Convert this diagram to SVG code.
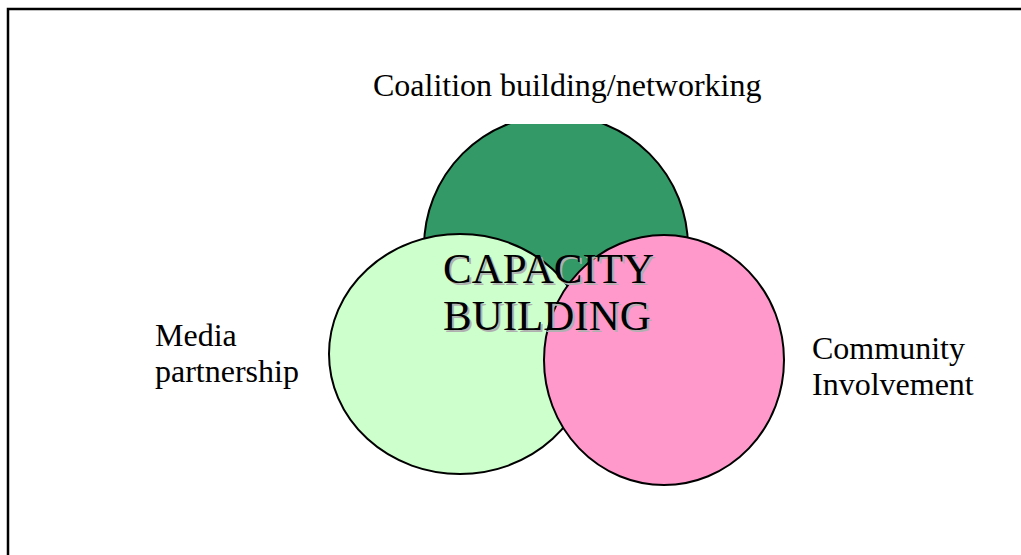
<svg xmlns="http://www.w3.org/2000/svg" width="1021" height="555" viewBox="0 0 1021 555">
<style>
.lbl{font-family:"Liberation Serif","Times New Roman",serif;font-size:32px;fill:#000}
.cap{font-family:"Liberation Serif","Times New Roman",serif;font-size:43px}
.circ{stroke:#000;stroke-width:2}
</style>
<defs>
<clipPath id="topclip"><rect x="0" y="124" width="1021" height="431"/></clipPath>
</defs>
<rect x="8" y="9" width="1030" height="560" fill="#fff" stroke="#000" stroke-width="2.5"/>
<g id="coalition">
<ellipse class="circ" cx="556" cy="247" rx="132" ry="132" fill="#339966" clip-path="url(#topclip)"/>
<text class="lbl" x="373" y="96">Coalition building/networking</text>
</g>
<g id="media">
<ellipse class="circ" cx="460" cy="354" rx="131" ry="120" fill="#CCFFCC"/>
<text class="lbl" x="155" y="346">Media</text>
<text class="lbl" x="155" y="382">partnership</text>
</g>
<g id="community">
<ellipse class="circ" cx="664" cy="360" rx="120" ry="125" fill="#FF99CC"/>
<text class="lbl" x="812" y="359">Community</text>
<text class="lbl" x="812" y="395">Involvement</text>
</g>
<g id="capacity">
<text class="cap" x="445" y="285" fill="#b0b0b0">CAPACITY</text>
<text class="cap" x="445" y="332" fill="#b0b0b0">BUILDING</text>
<text class="cap" x="443" y="283" fill="#000">CAPACITY</text>
<text class="cap" x="443" y="330" fill="#000">BUILDING</text>
</g>
<g id="connectors"></g>
</svg>
